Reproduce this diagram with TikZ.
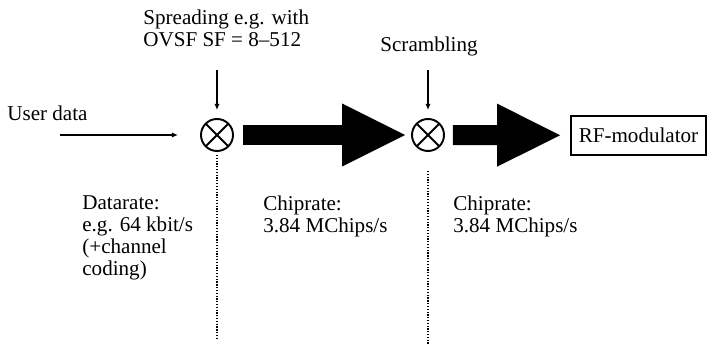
\documentclass[tikz,border=0pt]{standalone}
\usepackage{fontspec}
\setmainfont{Liberation Serif}
\usetikzlibrary{arrows.meta,positioning,calc}

\begin{document}
\begin{tikzpicture}[
  font=\fontsize{12}{12.5}\selectfont,
  mix/.style={draw, circle, inner sep=0pt, minimum size=0.64cm, line width=1.1pt,
    path picture={\draw[line width=1.1pt] (path picture bounding box.north west) -- (path picture bounding box.south east)
      (path picture bounding box.north east) -- (path picture bounding box.south west);}},
  block/.style={draw, rectangle, line width=1pt, minimum width=2.7cm, minimum height=0.78cm, inner sep=2pt},
  txt/.style={align=left, inner sep=0pt, anchor=north west},
  arr/.style={-{Latex[length=3.5pt,width=3pt]}, line width=0.7pt},
  fat/.style={line width=0.4cm, -{Triangle[length=1.26cm,width=1.26cm,line width=0pt]}},
  sep/.style={line width=0.8pt, dash pattern=on 0.7pt off 0.9pt}
]
  \useasboundingbox (0,0) rectangle (14.14,-6.88);

  \node[mix] (mixA) at (4.34,-2.7) {};
  \node[mix] (mixB) at (8.56,-2.7) {};
  \node[block] (rfmod) at (12.77,-2.71) {RF-modulator};

  \node[anchor=west, inner sep=0pt] (user) at (0.14,-2.26) {User data};
  \node[txt] (spread) at (2.86,-0.2) {Spreading e.g. with\\OVSF SF = 8--512};
  \node[inner sep=0pt] (scramble) at (8.58,-0.92) {Scrambling};
  \node[txt] (rate) at (1.64,-3.9) {Datarate:\\e.g. 64 kbit/s\\(+channel\\coding)};
  \node[txt] (chipA) at (5.26,-3.92) {Chiprate:\\3.84 MChips/s};
  \node[txt] (chipB) at (9.06,-3.92) {Chiprate:\\3.84 MChips/s};

  \coordinate (userin) at (1.2,-2.7);
  \coordinate (spreadin) at (4.34,-1.4);
  \coordinate (scramblein) at (8.56,-1.4);
  \coordinate (cutA) at (4.34,-6.76);
  \coordinate (cutB) at (8.56,-6.88);

  \draw[arr, shorten >=0.44cm] (userin) -- (mixA);
  \draw[arr, shorten >=0.16cm] (spreadin) -- (mixA);
  \draw[arr, shorten >=0.16cm] (scramblein) -- (mixB);

  \draw[fat, shorten <=0.18cm, shorten >=0.12cm] (mixA) -- (mixB);
  \draw[fat, shorten <=0.16cm, shorten >=0.2cm] (mixB) -- (rfmod);

  \draw[sep, shorten <=0.06cm] (mixA) -- (cutA);
  \draw[sep, shorten <=0.38cm] (mixB) -- (cutB);
\end{tikzpicture}
\end{document}
